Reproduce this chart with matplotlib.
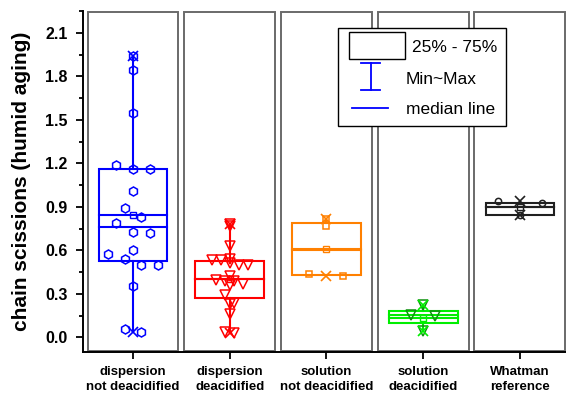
import matplotlib
matplotlib.use('Agg')
import matplotlib.pyplot as plt
import matplotlib.transforms as mtransforms
from matplotlib.patches import Rectangle
from matplotlib.lines import Line2D
import numpy as np

plt.rcParams['font.family'] = ['Liberation Sans', 'DejaVu Sans']

# sample groups
groups = ['dispersion\nnot deacidified', 'dispersion\ndeacidified',
          'solution\nnot deacidified', 'solution\ndeacidified', 'Whatman\nreference']

# chain scissions after humid aging, per group
disp_nd = [1.94, 1.84, 1.545, 1.19, 1.16, 1.16, 1.01, 0.889, 0.827, 0.789,
           0.727, 0.723, 0.606, 0.573, 0.543, 0.502, 0.502, 0.354, 0.06, 0.037]
disp_d = [0.78, 0.77, 0.63, 0.543, 0.537, 0.532, 0.516, 0.497, 0.497, 0.421,
          0.394, 0.387, 0.387, 0.366, 0.359, 0.29, 0.24, 0.228, 0.159, 0.041, 0.03]
sol_nd = [0.82, 0.765, 0.435, 0.423]
sol_d = [0.225, 0.157, 0.147, 0.042]
whatman = [0.941, 0.928, 0.847]

# box statistics (25%, median, mean, 75%)
q1 = [0.525, 0.271, 0.428, 0.099, 0.847]
medians = [0.758, 0.40, 0.605, 0.157, 0.90]
means = [0.847, 0.40, 0.611, 0.135, 0.90]
q3 = [1.16, 0.527, 0.79, 0.182, 0.928]

series = [disp_nd, disp_d, sol_nd, sol_d, whatman]
box_colors = ['#0000ff', '#ff0000', '#ff8000', '#00ee00', '#202020']
pt_colors = ['#0000ff', '#ff0000', '#ff8000', '#109010', '#202020']
markers = ['h', 'v', 's', 'v', 'o']
msizes = [6.5, 7.5, 5, 7, 4.5]
# swarm settings: bin height (data units) and column spacing (px)
bin_h = [0.1, 0.06, 0.1, 0.1, 0.1]
col_px = [16.7, 9, 34, 24, 44]

fig = plt.figure(figsize=(5.66, 3.96), dpi=100)
ax = fig.add_axes([83 / 566, 1 - 352 / 396, 483 / 566, 341 / 396])
ax.set_xlim(0.483, 5.476)
ax.set_ylim(-0.1, 2.25)

px_per_x = ax.transData.transform((1, 0))[0] - ax.transData.transform((0, 0))[0]


def swarm(vals, bh, spacing):
    # spread points of the same value bin symmetrically around the centre
    vals = np.asarray(vals)
    bins = np.floor(vals / bh).astype(int)
    offs = np.zeros(len(vals))
    for b in np.unique(bins):
        idx = np.where(bins == b)[0]
        n = len(idx)
        offs[idx] = (np.arange(n) - (n - 1) / 2) * spacing / px_per_x
    return offs


half_panel = 0.47
box_w = 0.71
trans = mtransforms.blended_transform_factory(ax.transData, ax.transAxes)

for i, vals in enumerate(series):
    c = i + 1
    # panel frame
    ax.add_patch(Rectangle((c - half_panel, 0.004), 2 * half_panel, 0.992,
                           transform=trans, facecolor='white', edgecolor='#6a6a6a',
                           lw=1.4, zorder=1))
    col = box_colors[i]
    ax.add_patch(Rectangle((c - box_w / 2, q1[i]), box_w, q3[i] - q1[i],
                           facecolor='none', edgecolor=col, lw=1.5, zorder=3))
    ax.plot([c - box_w / 2, c + box_w / 2], [medians[i]] * 2, color=col, lw=1.5, zorder=3)
    ax.plot([c - box_w / 2, c + box_w / 2], [means[i]] * 2, color=col, lw=1.5, zorder=3)
    ax.plot([c, c], [q3[i], max(vals)], color=col, lw=1.5, zorder=3)
    ax.plot([c, c], [q1[i], min(vals)], color=col, lw=1.5, zorder=3)
    ax.plot([c, c], [min(vals), max(vals)], ls='none', marker='x', ms=7,
            mec=col, mew=1.2, zorder=5)
    ax.plot(c, means[i], marker='s', ms=4, mfc='none', mec=col, mew=1, zorder=5)
    xs = c + swarm(vals, bin_h[i], col_px[i])
    ax.plot(xs, vals, ls='none', marker=markers[i], ms=msizes[i], mfc='none',
            mec=pt_colors[i], mew=1.1, zorder=4)

ax.set_xticks(range(1, 6))
ax.set_xticklabels(groups, fontweight='bold', fontsize=9.5, linespacing=1.3)
ax.set_yticks(np.arange(0, 2.11, 0.3))
ax.set_yticks(np.arange(0.15, 2.26, 0.3), minor=True)
ax.set_yticklabels(['%.1f' % v for v in np.arange(0, 2.11, 0.3)],
                   fontweight='bold', fontsize=11.5)
ax.tick_params(axis='y', which='major', direction='out', length=5, width=1.3, pad=6)
ax.tick_params(axis='y', which='minor', direction='out', length=3, width=1.3)
ax.tick_params(axis='x', which='major', direction='out', length=5, width=1.3, pad=5)
for s in ['top', 'right']:
    ax.spines[s].set_visible(False)
for s in ['left', 'bottom']:
    ax.spines[s].set_linewidth(1.4)
ax.set_ylabel('chain scissions (humid aging)', fontweight='bold', fontsize=15)
ax.yaxis.set_label_coords(-0.108, 0.5)

# legend, drawn in figure pixels
def fx(x):
    return x / 566


def fy(y):
    return 1 - y / 396


fig.add_artist(Rectangle((fx(338), fy(126)), fx(168), 98 / 396, facecolor='white',
                         edgecolor='black', lw=1, zorder=10))
fig.add_artist(Rectangle((fx(349), fy(59)), fx(56), 27 / 396, facecolor='none',
                         edgecolor='black', lw=1, zorder=11))
fig.text(fx(412), fy(48), '25% - 75%', fontsize=12.5, va='center', zorder=12)
fig.add_artist(Line2D([fx(370.5)] * 2, [fy(63), fy(90)], color='#0000ff', lw=1.3, zorder=11))
fig.add_artist(Line2D([fx(361), fx(380)], [fy(63)] * 2, color='#0000ff', lw=1.3, zorder=11))
fig.add_artist(Line2D([fx(361), fx(380)], [fy(90)] * 2, color='#0000ff', lw=1.3, zorder=11))
fig.text(fx(406), fy(79), 'Min~Max', fontsize=12.5, va='center', zorder=12)
fig.add_artist(Line2D([fx(352), fx(388)], [fy(108)] * 2, color='#0000ff', lw=1.3, zorder=11))
fig.text(fx(406), fy(109), 'median line', fontsize=12.5, va='center', zorder=12)

fig.savefig('out.png', dpi=100)
